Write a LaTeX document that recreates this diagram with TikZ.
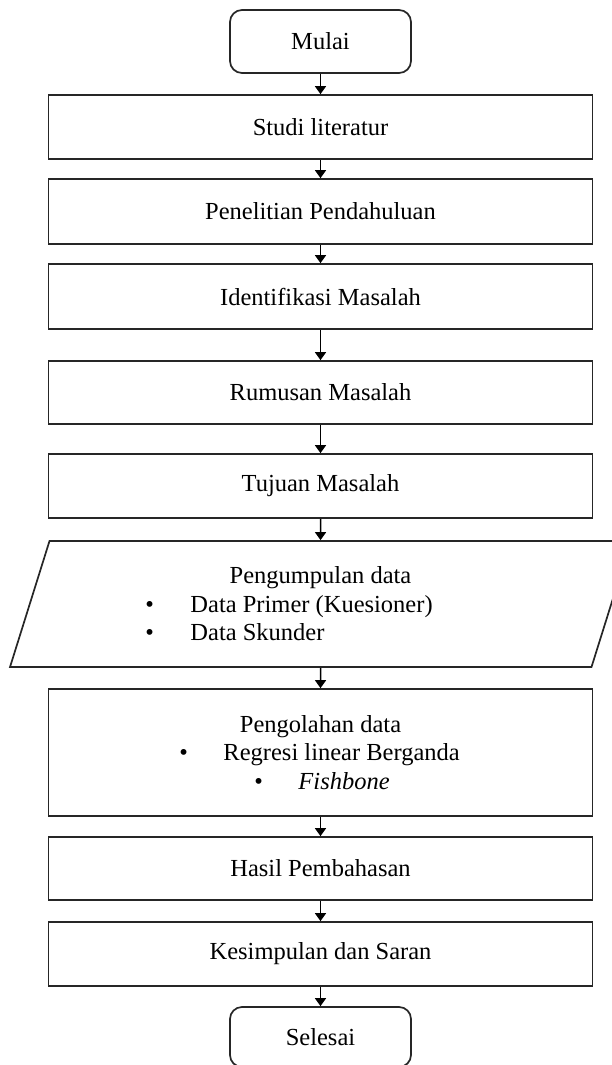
\documentclass[tikz,border=0pt]{standalone}
\usepackage{fontspec}
\setmainfont{Liberation Serif}
\usetikzlibrary{arrows.meta,shapes.geometric}

\tikzset{
  every node/.style={font=\fontsize{24.5bp}{28.5bp}\selectfont, inner sep=0pt},
  outline/.style={draw=black!85, line width=1.7bp},
  terminal/.style={outline, rectangle, rounded corners=12bp,
    minimum width=181bp, minimum height=63bp},
  process/.style={outline, rectangle, minimum width=544bp},
  inout/.style={outline, trapezium, trapezium stretches=true,
    trapezium left angle=62, trapezium right angle=118,
    minimum width=609bp, minimum height=126bp},
  flow/.style={line width=1.5bp, -{Triangle[width=11bp,length=8bp]}},
}

\begin{document}
\begin{tikzpicture}[x=1bp, y=-1bp]
  \useasboundingbox (0,0) rectangle (612,1065);

  \node[terminal] (start) at (320.5,41.5) {Mulai};
  \node[process, minimum height=64bp] (lit)  at (320.5,127)   {Studi literatur};
  \node[process, minimum height=65bp] (pre)  at (320.5,211.5) {Penelitian Pendahuluan};
  \node[process, minimum height=65bp] (idn)  at (320.5,296.5) {Identifikasi Masalah};
  \node[process, minimum height=63bp] (rum)  at (320.5,392.5) {Rumusan Masalah};
  \node[process, minimum height=64bp] (tuj)  at (320.5,486)   {Tujuan Masalah};
  \node[inout] (col) at (320.5,604) {%
    \parbox{542bp}{\centering Pengumpulan data\par\raggedright
      \hspace*{96bp}\makebox[45bp][l]{\textbullet}Data Primer (Kuesioner)\par
      \hspace*{96bp}\makebox[45bp][l]{\textbullet}Data Skunder}};
  \node[process, minimum height=127bp] (proc) at (320.5,752.5) {%
    \parbox{542bp}{\centering Pengolahan data\par\raggedright
      \hspace*{130bp}\makebox[44bp][l]{\textbullet}Regresi linear Berganda\par
      \hspace*{205bp}\makebox[44bp][l]{\textbullet}\textit{Fishbone}}};
  \node[process, minimum height=63bp] (res)  at (320.5,868.5) {Hasil Pembahasan};
  \node[process, minimum height=64bp] (conc) at (320.5,954)   {Kesimpulan dan Saran};
  \node[terminal, minimum height=60bp] (stop) at (320.5,1037) {Selesai};

  \draw[flow] (start) -- (lit);
  \draw[flow] (lit) -- (pre);
  \draw[flow] (pre) -- (idn);
  \draw[flow] (idn) -- (rum);
  \draw[flow] (rum) -- (tuj);
  \draw[flow] (tuj) -- (col);
  \draw[flow] (col) -- (proc);
  \draw[flow] (proc) -- (res);
  \draw[flow] (res) -- (conc);
  \draw[flow] (conc) -- (stop);
\end{tikzpicture}
\end{document}
